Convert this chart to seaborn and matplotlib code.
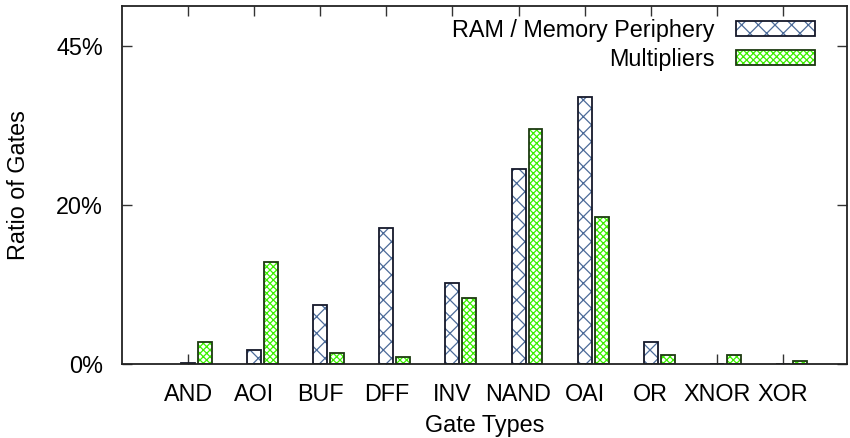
import matplotlib
matplotlib.use('Agg')
import numpy as np
import pandas as pd
import matplotlib.pyplot as plt
import seaborn as sns
from matplotlib.patches import Patch
from matplotlib.legend_handler import HandlerTuple

# values (axis units: 0..45)
gates = ['AND', 'AOI', 'BUF', 'DFF', 'INV', 'NAND', 'OAI', 'OR', 'XNOR', 'XOR']
ram = [0.15, 1.8, 7.4, 17.1, 10.15, 24.5, 33.6, 2.7, 0.0, 0.0]
mult = [2.7, 12.8, 1.4, 0.85, 8.25, 29.5, 18.5, 1.1, 1.1, 0.4]
series = ['RAM / Memory Periphery', 'Multipliers']
ytick_vals = [0, 20, 40]
ytick_labels = ['0%', '20%', '45%']

hatch_colors = ['#4c6b99', '#3cf000']
edge_colors = ['#15182a', '#1c3a10']
hatches = ['xx', 'xxxxx']

df = pd.DataFrame({
    'gate': gates * 2,
    'ratio': ram + mult,
    'series': [series[0]] * len(gates) + [series[1]] * len(gates),
})

sns.set_style('ticks')
plt.rcParams['font.family'] = ['Liberation Sans', 'DejaVu Sans']
plt.rcParams['hatch.linewidth'] = 0.9
plt.rcParams['text.color'] = 'black'
plt.rcParams['axes.labelcolor'] = 'black'
plt.rcParams['xtick.labelcolor'] = 'black'
plt.rcParams['ytick.labelcolor'] = 'black'
fs = 16.8

fig = plt.figure(figsize=(8.5, 4.38), dpi=100)
ax = fig.add_axes([0.1435, 0.169, 0.853, 0.8174])

width, gap = 0.514, 0.18
# hatched fill pass
sns.barplot(data=df, x='gate', y='ratio', hue='series', palette=['white', 'white'],
            width=width, gap=gap, linewidth=0, legend=False, ax=ax)
n = len(gates)
for i, p in enumerate(ax.patches):
    k = i // n
    p.set_hatch(hatches[k])
    p.set_edgecolor(hatch_colors[k])
    p.set_linewidth(0)
# outline pass
sns.barplot(data=df, x='gate', y='ratio', hue='series', palette=edge_colors,
            width=width, gap=gap, fill=False, linewidth=1.3, legend=False, ax=ax)

off = width / 4
ax.set_xticks(np.arange(n) - off)
ax.set_xticklabels(gates)
ax.set_xlim(-1 - off, 10 - off - 0.03)
ax.set_ylim(0, 45)
ax.set_yticks(ytick_vals)
ax.set_yticklabels(ytick_labels)

ax.tick_params(direction='in', length=7, width=1, top=True, right=True,
               labelsize=fs, pad=13.5, color='#333333')
for s in ax.spines.values():
    s.set_linewidth(1.3)
    s.set_color('#222222')

ax.set_xlabel('Gate Types', fontsize=fs, labelpad=6)
ax.set_ylabel('Ratio of Gates', fontsize=fs, labelpad=19)

handles = []
for k in range(2):
    fill = Patch(facecolor='white', edgecolor=hatch_colors[k], hatch=hatches[k], linewidth=0)
    outline = Patch(facecolor='none', edgecolor=edge_colors[k], linewidth=1.3)
    handles.append((fill, outline))
ax.legend(handles, series, handler_map={tuple: HandlerTuple(ndivide=1, pad=0)},
          loc='upper right', bbox_to_anchor=(0.956, 0.964), frameon=False,
          markerfirst=False, fontsize=fs, handlelength=3.4, handleheight=0.6,
          handletextpad=0.9, labelspacing=0.25, borderpad=0, borderaxespad=0)

fig.savefig('out.png', dpi=100)
